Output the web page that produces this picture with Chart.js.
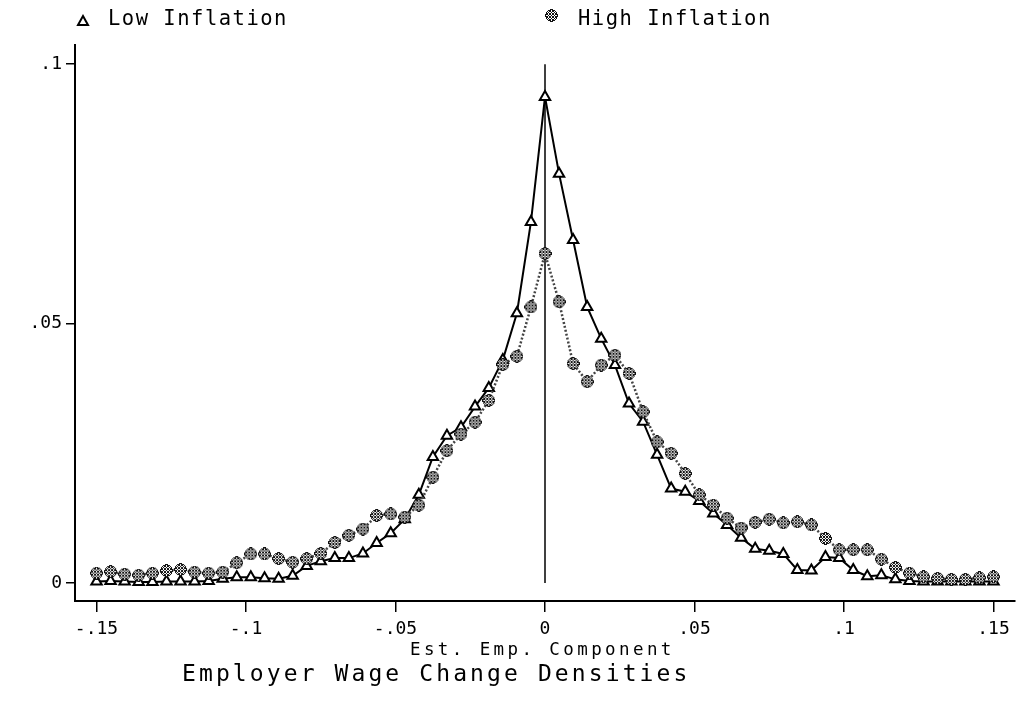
<!DOCTYPE html>
<html>
<head>
<meta charset="utf-8">
<title>Employer Wage Change Densities</title>
<script src="https://cdn.jsdelivr.net/npm/chart.js@4.4.1/dist/chart.umd.min.js"></script>
<style>
  html, body { margin: 0; padding: 0; background: #fff; }
  #wrap { position: relative; width: 1018px; height: 703px; overflow: hidden; }
  #chart { position: absolute; left: 0; top: 0; }
  .txt { position: absolute; font-family: 'DejaVu Sans Mono', monospace; color: #000; white-space: nowrap; line-height: 1; }
  .key { font-size: 20.5px; letter-spacing: 1.5px; top: 7.7px; }
  .mark { position: absolute; }
  #xTitle { font-size: 17.5px; letter-spacing: 3.4px; left: 410px; top: 641px; }
  #mainTitle { font-size: 23px; letter-spacing: 3.1px; left: 182px; top: 662px; }
</style>
</head>
<body>
<div id="wrap">
  <canvas id="chart" width="1018" height="703"></canvas>
  <canvas class="mark" id="lowMark" width="14" height="14" style="left:76px;top:14px"></canvas>
  <span class="txt key" style="left:108px">Low Inflation</span>
  <canvas class="mark" id="highMark" width="14" height="14" style="left:545px;top:9px"></canvas>
  <span class="txt key" style="left:578px">High Inflation</span>
  <span class="txt" id="xTitle">Est. Emp. Component</span>
  <span class="txt" id="mainTitle">Employer Wage Change Densities</span>
</div>
<script>
// grid of the density estimates (65 points, -.15 to .15)
const xs = [-0.15, -0.1453, -0.1406, -0.1359, -0.1313, -0.1266, -0.1219, -0.1172, -0.1125, -0.1078,
  -0.1031, -0.0984, -0.0938, -0.0891, -0.0844, -0.0797, -0.075, -0.0703, -0.0656, -0.0609,
  -0.0563, -0.0516, -0.0469, -0.0422, -0.0375, -0.0328, -0.0281, -0.0234, -0.0188, -0.0141,
  -0.0094, -0.0047, 0, 0.0047, 0.0094, 0.0141, 0.0188, 0.0234, 0.0281, 0.0328,
  0.0375, 0.0422, 0.0469, 0.0516, 0.0563, 0.0609, 0.0656, 0.0703, 0.075, 0.0797,
  0.0844, 0.0891, 0.0938, 0.0984, 0.1031, 0.1078, 0.1125, 0.1172, 0.1219, 0.1266,
  0.1313, 0.1359, 0.1406, 0.1453, 0.15];

const lowInflation = [0.0003, 0.0004, 0.0003, 0.0002, 0.0002, 0.0003, 0.0003, 0.0003, 0.0004, 0.0008,
  0.0011, 0.0011, 0.0009, 0.0008, 0.0014, 0.0033, 0.0042, 0.0048, 0.0048, 0.0057,
  0.0077, 0.0096, 0.0123, 0.017, 0.0243, 0.0284, 0.03, 0.034, 0.0376, 0.043,
  0.052, 0.0696, 0.0937, 0.0789, 0.0661, 0.0532, 0.0471, 0.042, 0.0346, 0.0311,
  0.0247, 0.0182, 0.0176, 0.0158, 0.0134, 0.0112, 0.0087, 0.0066, 0.0062, 0.0056,
  0.0025, 0.0024, 0.005, 0.0048, 0.0025, 0.0013, 0.0015, 0.0007, 0.0004, 0.0003,
  0.0003, 0.0003, 0.0003, 0.0003, 0.0003];

const highInflation = [0.0019, 0.0022, 0.0017, 0.0015, 0.0019, 0.0024, 0.0026, 0.0021, 0.0019, 0.0021,
  0.0039, 0.0056, 0.0056, 0.0047, 0.004, 0.0047, 0.0057, 0.0078, 0.0092, 0.0104,
  0.013, 0.0133, 0.0127, 0.015, 0.0204, 0.0255, 0.0287, 0.031, 0.0352, 0.0421,
  0.0437, 0.0532, 0.0635, 0.0542, 0.0423, 0.0388, 0.042, 0.0439, 0.0404, 0.033,
  0.0272, 0.025, 0.0211, 0.017, 0.015, 0.0125, 0.0106, 0.0117, 0.0123, 0.0116,
  0.0118, 0.0112, 0.0086, 0.0064, 0.0064, 0.0064, 0.0046, 0.003, 0.0019, 0.0012,
  0.0009, 0.0007, 0.0007, 0.001, 0.0012];

const xTickValues = [-0.15, -0.1, -0.05, 0, 0.05, 0.1, 0.15];
const xTickLabels = ['-.15', '-.1', '-.05', '0', '.05', '.1', '.15'];
const yTickValues = [0, 0.05, 0.1];
const yTickLabels = ['0', '.05', '.1'];

// hatched circle marker like the old plotter symbol
function hatchMarker(canvas) {
    const c = canvas || document.createElement('canvas');
    c.width = 13; c.height = 13;
    const g = c.getContext('2d');
    const cx = 6.5, cy = 6.5;
    for (let i = 0; i < 13; i++) {
        for (let j = 0; j < 13; j++) {
            const d = Math.hypot(i + 0.5 - cx, j + 0.5 - cy);
            if (d > 6.2) continue;
            if (d > 5.2 || (i + j) % 3 === 0 || (i - j + 12) % 3 === 0) {
                g.fillStyle = '#111';
            } else {
                g.fillStyle = '#fff';
            }
            g.fillRect(i, j, 1, 1);
        }
    }
    return c;
}

function triangleMarker(canvas) {
    const g = canvas.getContext('2d');
    g.lineWidth = 2;
    g.strokeStyle = '#000';
    g.fillStyle = '#fff';
    g.beginPath();
    g.moveTo(7, 2);
    g.lineTo(12, 11);
    g.lineTo(2, 11);
    g.closePath();
    g.fill();
    g.stroke();
}

const highPoint = hatchMarker();
hatchMarker(document.getElementById('highMark'));
triangleMarker(document.getElementById('lowMark'));

const toPoints = (vals) => vals.map((v, i) => ({ x: xs[i], y: v }));

// keep the plot frame where the original has it (no label padding)
const noPad = (scale) => {
    scale.paddingLeft = 0;
    scale.paddingRight = 0;
    scale.paddingTop = 0;
    scale.paddingBottom = 0;
};

const ctx = document.getElementById('chart').getContext('2d');
const chart = new Chart(ctx, {
    type: 'line',
    data: {
        datasets: [
            {
                label: 'zero',
                data: [{ x: 0, y: 0 }, { x: 0, y: 0.1 }],
                borderColor: '#000',
                borderWidth: 1.5,
                pointRadius: 0,
                order: 3
            },
            {
                label: 'Low Inflation',
                data: toPoints(lowInflation),
                borderColor: '#000',
                borderWidth: 2,
                tension: 0,
                pointStyle: 'triangle',
                pointRadius: 6,
                pointBorderWidth: 2,
                pointBorderColor: '#000',
                pointBackgroundColor: '#fff',
                order: 2
            },
            {
                label: 'High Inflation',
                data: toPoints(highInflation),
                borderColor: '#444',
                borderWidth: 2.5,
                borderDash: [2, 2],
                tension: 0,
                pointStyle: highPoint,
                pointRadius: 6,
                order: 1
            }
        ]
    },
    options: {
        responsive: false,
        animation: false,
        events: [],
        layout: {
            autoPadding: false,
            padding: { top: 45, right: 3, bottom: 0, left: 0 }
        },
        plugins: {
            legend: { display: false },
            tooltip: { enabled: false },
            title: { display: false }
        },
        scales: {
            x: {
                type: 'linear',
                min: -0.1572,
                max: 0.1572,
                afterBuildTicks: (scale) => {
                    scale.ticks = xTickValues.map(v => ({ value: v }));
                },
                afterFit: (scale) => { scale.height = 102; noPad(scale); },
                grid: {
                    display: true,
                    drawOnChartArea: false,
                    drawTicks: true,
                    tickLength: 11,
                    color: '#000',
                    lineWidth: 1.5
                },
                border: { display: true, color: '#000', width: 2 },
                ticks: {
                    color: '#000',
                    padding: 7,
                    maxRotation: 0,
                    font: { family: "'DejaVu Sans Mono', monospace", size: 18 },
                    callback: (value, index) => xTickLabels[index]
                }
            },
            y: {
                type: 'linear',
                min: -0.00347,
                max: 0.1037,
                afterBuildTicks: (scale) => {
                    scale.ticks = yTickValues.map(v => ({ value: v }));
                },
                afterFit: (scale) => { scale.width = 75; noPad(scale); },
                grid: {
                    display: true,
                    drawOnChartArea: false,
                    drawTicks: true,
                    tickLength: 9,
                    color: '#000',
                    lineWidth: 1.5
                },
                border: { display: true, color: '#000', width: 2 },
                ticks: {
                    color: '#000',
                    padding: 4,
                    font: { family: "'DejaVu Sans Mono', monospace", size: 18 },
                    callback: (value, index) => yTickLabels[index]
                }
            }
        }
    }
});
</script>
</body>
</html>
